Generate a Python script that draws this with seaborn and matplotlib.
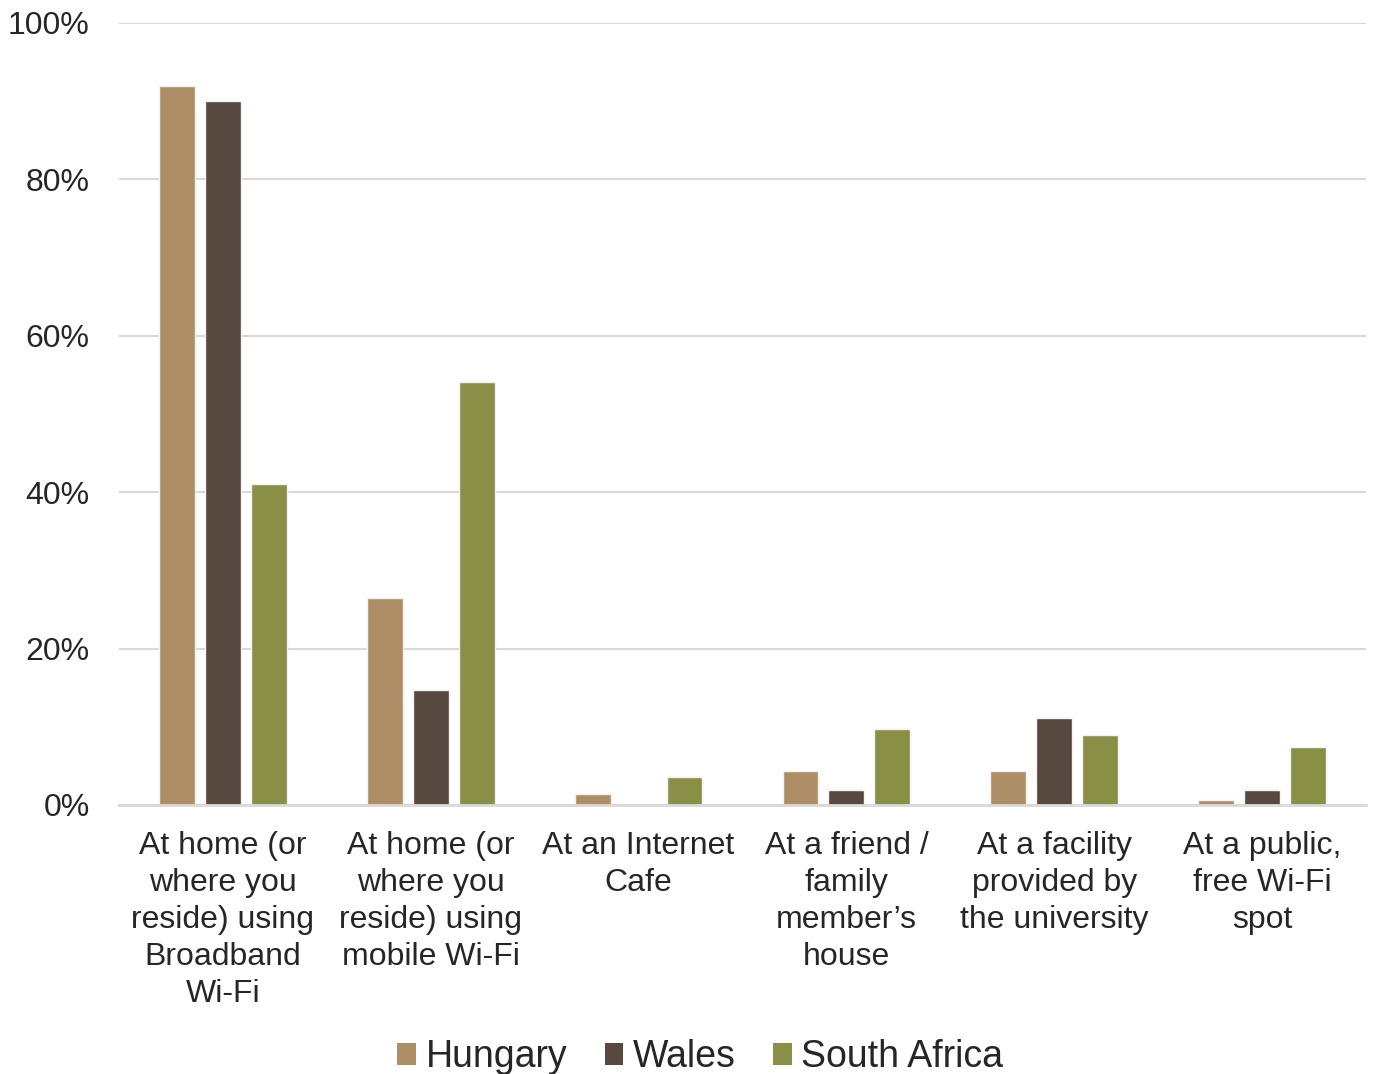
import matplotlib
matplotlib.use("Agg")
import matplotlib.pyplot as plt
from matplotlib.patches import Patch
from matplotlib.ticker import FixedLocator, PercentFormatter
import seaborn as sns
import pandas as pd

categories = [
    "At home (or\nwhere you\nreside) using\nBroadband\nWi-Fi",
    "At home (or\nwhere you\nreside) using\nmobile Wi-Fi",
    "At an Internet\nCafe",
    "At a friend /\nfamily\nmember\u2019s\nhouse",
    "At a facility\nprovided by\nthe university",
    "At a public,\nfree Wi-Fi\nspot",
]
countries = ["Hungary", "Wales", "South Africa"]
hungary = [92.0, 26.5, 1.4, 4.3, 4.3, 0.6]
wales = [90.0, 14.7, 0.0, 1.9, 11.1, 1.9]
south_africa = [41.0, 54.1, 3.6, 9.7, 9.0, 7.4]
colors = ["#AD8E66", "#574840", "#8A8F47"]

df = pd.DataFrame({
    "category": categories * 3,
    "country": [c for c in countries for _ in categories],
    "value": hungary + wales + south_africa,
})

sns.set_theme(style="white")
plt.rcParams["font.family"] = ["Liberation Sans", "DejaVu Sans"]
text_color = "#262626"
grid_color = "#d9d9d9"

fig = plt.figure(figsize=(13.76, 10.74), dpi=100)
ax = fig.add_axes([0.0865, 0.2505, 0.9062, 0.7281])

sns.barplot(data=df, x="category", y="value", hue="country",
            hue_order=countries, palette=colors, order=categories,
            width=0.663, gap=0.22, edgecolor="#f2f2f2", linewidth=1.0,
            saturation=1.0, legend=False, ax=ax)

ax.set_ylim(0, 100)
ax.set_xlim(-0.5, len(categories) - 0.5)
ax.yaxis.set_major_locator(FixedLocator([0, 20, 40, 60, 80, 100]))
ax.yaxis.set_major_formatter(PercentFormatter(decimals=0))
ax.grid(axis="y", color=grid_color, linewidth=1.5)
ax.set_axisbelow(True)
for side in ["top", "right", "left"]:
    ax.spines[side].set_visible(False)
ax.spines["bottom"].set_color(grid_color)
ax.spines["bottom"].set_linewidth(2)

ax.set_xlabel("")
ax.set_ylabel("")
ax.tick_params(axis="y", length=0, labelsize=23, labelcolor=text_color, pad=21)
ax.set_xticks(range(len(categories)))
ax.set_xticklabels(categories, fontsize=23, color=text_color, linespacing=1.3, va="top")
ax.tick_params(axis="x", which="major", direction="in", length=5, width=1.5,
               color=grid_color, pad=19)
ax.set_xticks([i - 0.5 for i in range(len(categories) + 1)], minor=True)
ax.tick_params(axis="x", which="minor", direction="in", length=9, width=1.5,
               color=grid_color)

handles = [Patch(facecolor=c, edgecolor="none", label=n) for c, n in zip(colors, countries)]
fig.legend(handles=handles, loc="center", bbox_to_anchor=(0.509, 0.0155), ncol=3,
           frameon=False, fontsize=27, handlelength=0.5, handleheight=0.5,
           handletextpad=0.25, columnspacing=1.0, labelcolor=text_color)

fig.savefig("out.png", dpi=100)
